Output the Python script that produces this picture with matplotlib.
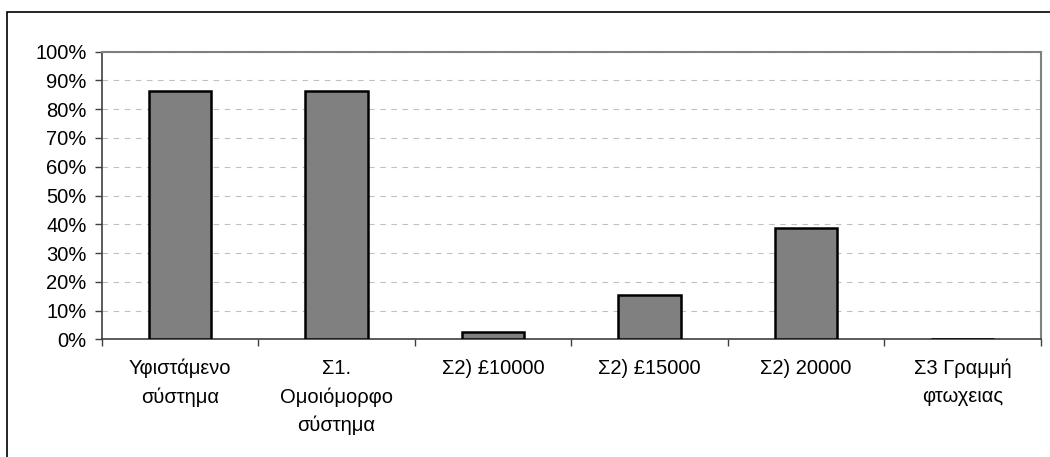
import matplotlib
matplotlib.use('Agg')
import matplotlib.pyplot as plt
from matplotlib.patches import Rectangle
from matplotlib.ticker import MultipleLocator, PercentFormatter

plt.rcParams['font.family'] = ['Liberation Sans', 'DejaVu Sans']

categories = ['Υφιστάμενο\nσύστημα', 'Σ1.\nΟμοιόμορφο\nσύστημα', 'Σ2) £10000',
              'Σ2) £15000', 'Σ2) 20000', 'Σ3 Γραμμή\nφτωχειας']
values = [86.5, 86.5, 2.5, 15.4, 38.6, 0.0]

W, H = 1050, 457
fig = plt.figure(figsize=(W / 100, H / 100), dpi=100)

# outer chart border (only top and left edges are visible in the picture)
fig.patches.append(Rectangle((7 / W, -0.1), 1.2, 1 - 12 / H + 0.1,
                             transform=fig.transFigure, fill=False,
                             edgecolor='black', lw=1.2))

ax = fig.add_axes([101.7 / W, 1 - 339.3 / H, (1040.7 - 101.7) / W, (339.3 - 51.7) / H])

x = range(len(categories))
ax.bar(x, values, width=0.4, color='#808080', edgecolor='black', lw=1.8, zorder=3)

ax.set_xlim(-0.5, len(categories) - 0.5)
ax.set_ylim(0, 100)
ax.yaxis.set_major_locator(MultipleLocator(10))
ax.yaxis.set_major_formatter(PercentFormatter(decimals=0))
ax.yaxis.grid(True, color='#c0c0c0', ls=(0, (5, 5)), lw=0.8, zorder=0)

# ticks sit on category borders, labels at centres
ax.set_xticks([i + 0.5 for i in range(-1, len(categories))])
ax.set_xticklabels([])
ax.set_xticks(list(x), minor=True)
ax.set_xticklabels(categories, minor=True, fontsize=14.5, linespacing=1.6)
ax.tick_params(axis='x', which='minor', length=0, pad=14)
ax.tick_params(axis='x', which='major', length=5, width=1, color='#404040')
ax.tick_params(axis='y', length=5, width=1, color='#404040', labelsize=14.5, pad=6)

for s in ['top', 'right']:
    ax.spines[s].set_color('#808080')
    ax.spines[s].set_linewidth(1.5)
for s in ['left', 'bottom']:
    ax.spines[s].set_color('#404040')
    ax.spines[s].set_linewidth(1.2)

fig.savefig('out.png', dpi=100)
